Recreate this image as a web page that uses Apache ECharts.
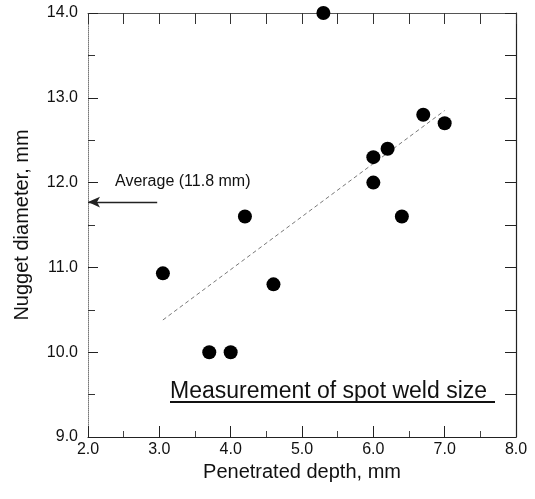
<!DOCTYPE html>
<html><head><meta charset="utf-8">
<script src="https://cdn.jsdelivr.net/npm/echarts@6/dist/echarts.min.js"></script>
<style>html,body{margin:0;padding:0;background:#fff}#c{width:535px;height:499px}</style>
</head><body><div id="c"></div>
<script>
// Measured points
const depth = [5.3, 3.05, 3.7, 4.0, 4.6, 4.2, 6.0, 6.0, 6.2, 6.4, 6.7, 7.0];
const diameter = [14.0, 10.93, 10.0, 10.0, 10.8, 11.6, 12.3, 12.0, 12.4, 11.6, 12.8, 12.7];
// Trend line end points
const trendDepth = [3.05, 7.0];
const trendDiameter = [10.38, 12.85];
// Average arrow
const averageDiameter = 11.77;
const averageArrowDepth = [2.97, 2.0];
const averageText = 'Average (11.8 mm)';
// Axes
const xName = 'Penetrated depth, mm';
const yName = 'Nugget diameter, mm';
const titleText = 'Measurement of spot weld size';
const xMin = 2, xMax = 8, yMin = 9, yMax = 14;

const FONT = 'Liberation Sans, Arial, sans-serif';
const chart = echarts.init(document.getElementById('c'));
const pts = depth.map((d, i) => [d, diameter[i]]);
const trend = trendDepth.map((d, i) => [d, trendDiameter[i]]);

chart.setOption({
  animation: false,
  backgroundColor: '#fff',
  grid: { left: 88, right: 19, top: 13, bottom: 62 },
  xAxis: [{
    type: 'value', min: xMin, max: xMax, interval: 1,
    name: xName, nameLocation: 'middle', nameGap: 24,
    nameTextStyle: { fontFamily: FONT, fontSize: 20, color: '#111' },
    axisLine: { lineStyle: { color: '#222', width: 1.2 } },
    axisTick: { inside: true, length: 11, lineStyle: { color: '#222' } },
    minorTick: { show: true, splitNumber: 2, length: 6, lineStyle: { color: '#444' } },
    axisLabel: { fontFamily: FONT, fontSize: 16, color: '#111', margin: 5,
      formatter: v => v.toFixed(1) },
    splitLine: { show: false }
  }, {
    type: 'value', position: 'top', min: xMin, max: xMax, interval: 0.5,
    axisLine: { show: true, lineStyle: { color: '#555', width: 1 } },
    axisTick: { inside: true, length: 11, lineStyle: { color: '#333' } },
    axisLabel: { show: false }, splitLine: { show: false }
  }],
  yAxis: [{
    type: 'value', min: yMin, max: yMax, interval: 1,
    name: yName, nameLocation: 'middle', nameGap: 56,
    nameTextStyle: { fontFamily: FONT, fontSize: 20, color: '#111' },
    axisLine: { lineStyle: { color: '#777', width: 1, type: 'dotted' } },
    axisTick: { inside: true, length: 10, lineStyle: { color: '#222' } },
    minorTick: { show: true, splitNumber: 2, length: 7, lineStyle: { color: '#333' } },
    axisLabel: { fontFamily: FONT, fontSize: 16, color: '#111', margin: 10,
      formatter: v => v.toFixed(1) },
    splitLine: { show: false }
  }, {
    type: 'value', position: 'right', min: yMin, max: yMax, interval: 0.5,
    axisLine: { show: true, lineStyle: { color: '#222', width: 1.2 } },
    axisTick: { inside: true, length: 11, lineStyle: { color: '#222' } },
    axisLabel: { show: false }, splitLine: { show: false }
  }],
  series: [{
    type: 'line', data: trend, symbol: 'none', silent: true,
    lineStyle: { color: '#555', width: 0.8, type: [4, 3] }
  }, {
    type: 'line', data: averageArrowDepth.map(d => [d, averageDiameter]),
    symbol: 'none', silent: true, lineStyle: { width: 0 },
    markLine: {
      silent: true, animation: false,
      symbol: ['none', 'arrow'], symbolSize: [8, 12],
      lineStyle: { color: '#222', width: 1.3, type: 'solid' },
      label: { show: false },
      data: [[{ coord: [averageArrowDepth[0], averageDiameter] },
              { coord: [averageArrowDepth[1], averageDiameter] }]]
    }
  }, {
    type: 'scatter', data: pts, symbol: 'circle', symbolSize: 14,
    itemStyle: { color: '#000', opacity: 1 }, z: 5
  }],
  graphic: [{
    type: 'text', left: 115, top: 174,
    style: { text: averageText, font: '16px ' + FONT, fill: '#111' }
  }, {
    type: 'text', left: 170, top: 380,
    style: { text: titleText, font: '23px ' + FONT, fill: '#111' }
  }, {
    type: 'line', shape: { x1: 170, y1: 402, x2: 495, y2: 402 },
    style: { stroke: '#111', lineWidth: 2 }
  }]
});
</script></body></html>
